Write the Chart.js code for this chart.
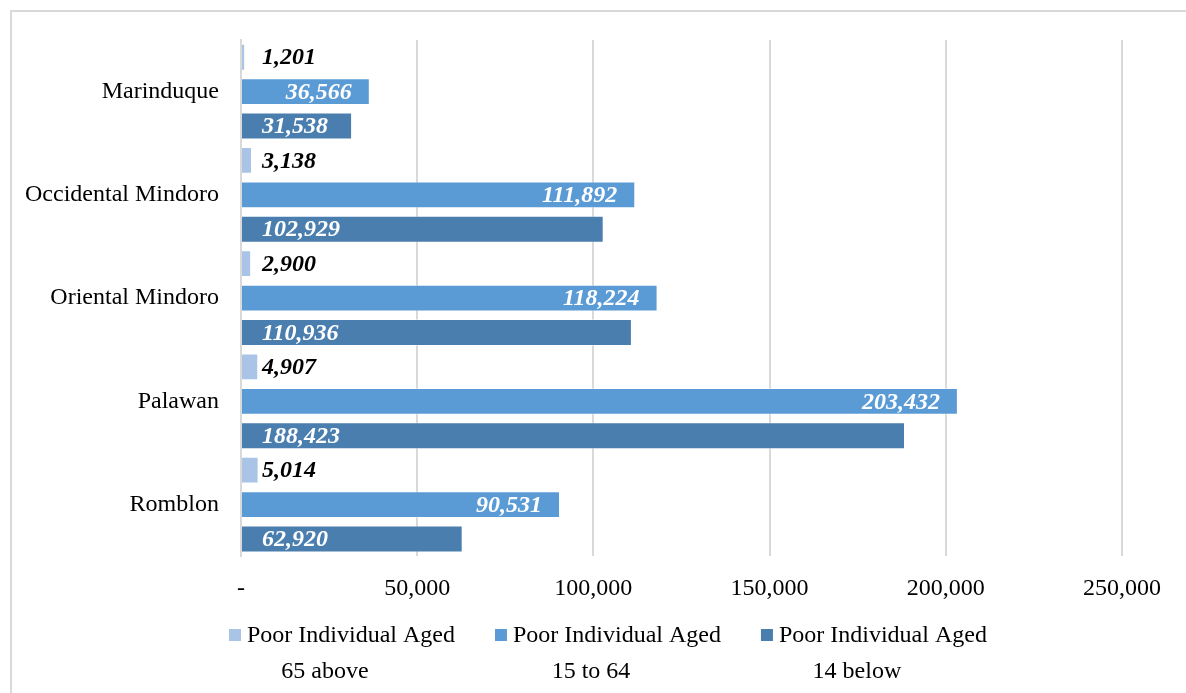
<!DOCTYPE html>
<html lang="en">
<head>
    <meta charset="UTF-8">
    <title>Poor Individuals by Age Group - MIMAROPA</title>
    <script src="https://cdn.jsdelivr.net/npm/chart.js@4.4.1/dist/chart.umd.min.js"></script>
    <style>
        body {
            margin: 0;
            background: #ffffff;
            overflow: hidden;
        }
        .frame {
            position: absolute;
            left: 10px;
            top: 10px;
            width: 2000px;
            height: 2000px;
            border: 2px solid #d9d9d9;
        }
        .chart-box {
            position: absolute;
            left: 0;
            top: 0;
            width: 1186px;
            height: 693px;
        }
    </style>
</head>
<body>
    <div class="frame"></div>
    <div class="chart-box">
        <canvas id="poverty-chart" width="1186" height="693"></canvas>
    </div>

    <script>
        const provinces = ['Marinduque', 'Occidental Mindoro', 'Oriental Mindoro', 'Palawan', 'Romblon'];
        const aged65Above = [1201, 3138, 2900, 4907, 5014];
        const aged15To64 = [36566, 111892, 118224, 203432, 90531];
        const aged14Below = [31538, 102929, 110936, 188423, 62920];
        const seriesNames = [
            ['Poor Individual Aged', '65 above'],
            ['Poor Individual Aged', '15 to 64'],
            ['Poor Individual Aged', '14 below']
        ];
        const seriesColors = ['#a9c4e6', '#5b9bd5', '#4a7eae'];
        const xTicks = [0, 50000, 100000, 150000, 200000, 250000];

        const serif = "'Liberation Serif', 'Times New Roman', serif";

        // draws value labels: series 0 and 2 at the bar base, series 1 inside the bar end
        const valueLabels = {
            id: 'valueLabels',
            afterDatasetsDraw(chart) {
                const ctx = chart.ctx;
                const zeroX = chart.scales.x.getPixelForValue(0);
                ctx.save();
                ctx.font = 'italic bold 24px ' + serif;
                ctx.textBaseline = 'middle';
                chart.data.datasets.forEach((ds, i) => {
                    chart.getDatasetMeta(i).data.forEach((bar, j) => {
                        const text = ds.data[j].toLocaleString('en-US');
                        if (i === 1) {
                            ctx.fillStyle = '#ffffff';
                            ctx.textAlign = 'right';
                            ctx.fillText(text, bar.x - 18, bar.y + 1);
                        } else {
                            ctx.fillStyle = i === 0 ? '#000000' : '#ffffff';
                            ctx.textAlign = 'left';
                            ctx.fillText(text, zeroX + 21, bar.y + 1);
                        }
                    });
                });
                ctx.restore();
            }
        };

        // two-line legend under the axis
        const twoLineLegend = {
            id: 'twoLineLegend',
            afterDraw(chart) {
                const ctx = chart.ctx;
                ctx.save();
                ctx.font = '24px ' + serif;
                ctx.textBaseline = 'middle';
                let x = 229;
                const y1 = 635, y2 = 671;
                seriesNames.forEach((lines, i) => {
                    ctx.fillStyle = seriesColors[i];
                    ctx.fillRect(x, y1 - 6, 12, 12);
                    const tx = x + 18;
                    const w = ctx.measureText(lines[0]).width;
                    ctx.fillStyle = '#000000';
                    ctx.textAlign = 'left';
                    ctx.fillText(lines[0], tx, y1 + 1);
                    ctx.textAlign = 'center';
                    ctx.fillText(lines[1], tx + w / 2 - 26, y2 + 1);
                    x = tx + w + 40;
                });
                ctx.restore();
            }
        };

        const ctx = document.getElementById('poverty-chart').getContext('2d');
        new Chart(ctx, {
            type: 'bar',
            data: {
                labels: provinces,
                datasets: [
                    { label: seriesNames[0].join(' '), data: aged65Above, backgroundColor: seriesColors[0] },
                    { label: seriesNames[1].join(' '), data: aged15To64, backgroundColor: seriesColors[1] },
                    { label: seriesNames[2].join(' '), data: aged14Below, backgroundColor: seriesColors[2] }
                ].map(d => Object.assign(d, {
                    borderColor: 'rgba(255,255,255,0.45)',
                    borderWidth: 1,
                    barPercentage: 0.78,
                    categoryPercentage: 1.0
                }))
            },
            options: {
                indexAxis: 'y',
                responsive: false,
                animation: false,
                devicePixelRatio: 1,
                layout: {
                    padding: { left: 3, right: 64, top: 40, bottom: 72 }
                },
                plugins: {
                    legend: { display: false },
                    tooltip: { enabled: false }
                },
                scales: {
                    x: {
                        min: 0,
                        max: 250000,
                        afterBuildTicks: axis => { axis.ticks = xTicks.map(v => ({ value: v })); },
                        grid: { color: '#d9d9d9', lineWidth: 2, drawTicks: false },
                        border: { display: false },
                        ticks: {
                            padding: 18,
                            color: '#000000',
                            font: { family: serif, size: 24 },
                            callback: v => v === 0 ? '-' : v.toLocaleString('en-US')
                        }
                    },
                    y: {
                        grid: { display: false, drawTicks: false },
                        border: { display: true, color: '#d9d9d9', width: 2 },
                        ticks: {
                            padding: 22,
                            color: '#000000',
                            font: { family: serif, size: 24 }
                        }
                    }
                }
            },
            plugins: [valueLabels, twoLineLegend]
        });
    </script>
</body>
</html>
